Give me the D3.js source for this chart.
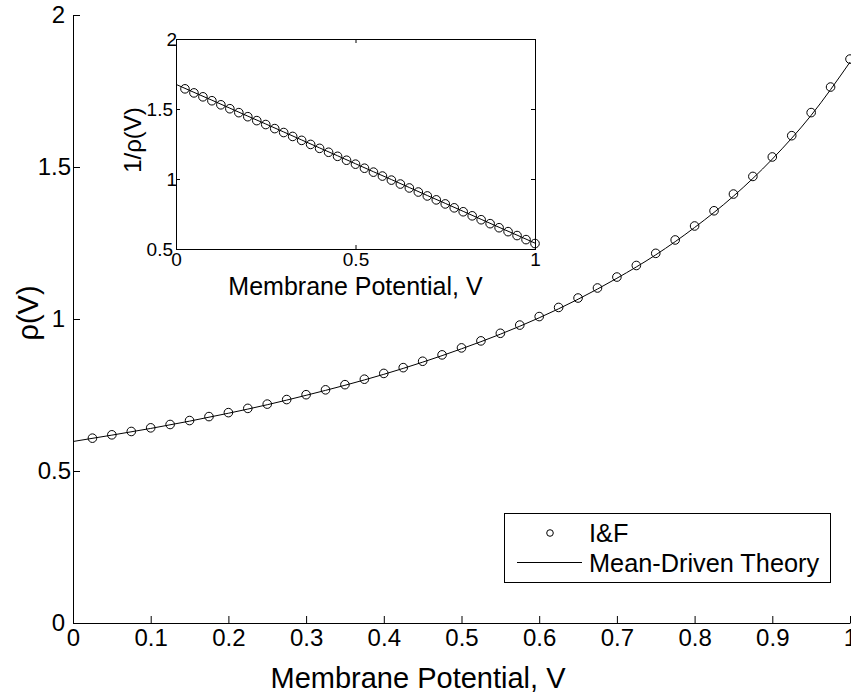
<!DOCTYPE html>
<html><head><meta charset="utf-8">
<script src="https://cdn.jsdelivr.net/npm/d3@7"></script>
<style>
body{margin:0;background:#fff}
svg{display:block;font-family:"Liberation Sans",Arial,Helvetica,sans-serif}
</style>
</head><body>
<svg id="chart" width="851" height="700"></svg>
<script>
// ---- data ----
const markerV = [0.025,0.05,0.075,0.1,0.125,0.15,0.175,0.2,0.225,0.25,0.275,0.3,0.325,0.35,0.375,0.4,0.425,0.45,0.475,0.5,
                 0.525,0.55,0.575,0.6,0.625,0.65,0.675,0.7,0.725,0.75,0.775,0.8,0.825,0.85,0.875,0.9,0.925,0.95,0.975,1.0];
const markerRho = [0.608,0.619,0.630,0.642,0.653,0.666,0.679,0.692,0.706,0.720,0.735,0.751,0.767,0.784,0.802,0.821,0.840,0.861,0.882,0.905,
                   0.928,0.953,0.980,1.008,1.038,1.069,1.102,1.138,1.176,1.216,1.260,1.306,1.356,1.411,1.469,1.533,1.603,1.679,1.763,1.855];
const markerInvRho = [1.644,1.615,1.587,1.559,1.530,1.502,1.474,1.445,1.417,1.389,1.360,1.332,1.304,1.276,1.247,1.219,1.191,1.162,1.134,1.106,
                      1.077,1.049,1.021,0.992,0.964,0.936,0.907,0.879,0.851,0.822,0.794,0.766,0.737,0.709,0.681,0.652,0.624,0.596,0.567,0.539];
const theoryV = [0,0.05,0.1,0.15,0.2,0.25,0.3,0.35,0.4,0.45,0.5,0.55,0.6,0.65,0.7,0.75,0.8,0.85,0.9,0.95,1.0];
const theoryRho = [0.597,0.618,0.640,0.664,0.690,0.718,0.749,0.782,0.818,0.858,0.902,0.950,1.004,1.065,1.134,1.211,1.301,1.404,1.526,1.670,1.845];
const theoryInvRho = [1.676,1.619,1.563,1.506,1.449,1.393,1.336,1.279,1.222,1.166,1.109,1.052,0.996,0.939,0.882,0.826,0.769,0.712,0.655,0.599,0.542];
const mainXTicks = [0,0.1,0.2,0.3,0.4,0.5,0.6,0.7,0.8,0.9,1];
const mainYTicks = [0,0.5,1,1.5,2];
const insetXTicks = [0,0.5,1];
const insetYTicks = [0.5,1,1.5,2];
const legendLabels = ["I&F","Mean-Driven Theory"];

const svg = d3.select("#chart");
const fmt = d => String(d);

// ---- main plot ----
const x = d3.scaleLinear().domain([0,1]).range([73,850]);
const y = d3.scaleLinear().domain([0,2]).range([623,15]);

const gx = svg.append("g").attr("transform","translate(0,623)")
  .call(d3.axisBottom(x).tickValues(mainXTicks).tickFormat(fmt).tickSize(-7).tickSizeOuter(0).tickPadding(6));
gx.selectAll("text").attr("font-size",24).attr("fill","#000");
gx.selectAll("line,path").attr("stroke","#000");
gx.attr("font-family",null);

const gy = svg.append("g").attr("transform","translate(73,0)")
  .call(d3.axisLeft(y).tickValues(mainYTicks).tickFormat(fmt).tickSize(-7).tickSizeOuter(0).tickPadding(2));
gy.selectAll("text").attr("font-size",24).attr("fill","#000")
  .attr("dx", d => Number.isInteger(d) ? -6 : 0);
gy.selectAll("line,path").attr("stroke","#000");
gy.attr("font-family",null);

const line = d3.line().x((d,i)=>x(theoryV[i])).y(d=>y(d)).curve(d3.curveMonotoneX);
svg.append("path").datum(theoryRho).attr("d",line).attr("fill","none").attr("stroke","#000").attr("stroke-width",1);

svg.append("g").selectAll("circle").data(markerRho).join("circle")
  .attr("cx",(d,i)=>x(markerV[i])).attr("cy",d=>y(d)).attr("r",4.3)
  .attr("fill","none").attr("stroke","#000").attr("stroke-width",1);

svg.append("text").attr("x",418).attr("y",688).attr("text-anchor","middle")
  .attr("font-size",29).text("Membrane Potential, V");
svg.append("text").attr("transform","translate(38,313) rotate(-90)").attr("text-anchor","middle")
  .attr("font-size",29).text("ρ(V)");

// ---- legend ----
const lg = svg.append("g");
lg.append("rect").attr("x",504.5).attr("y",513.5).attr("width",326).attr("height",69)
  .attr("fill","#fff").attr("stroke","#000").attr("stroke-width",1);
lg.append("circle").attr("cx",550).attr("cy",533).attr("r",3.3).attr("fill","none").attr("stroke","#000");
lg.append("line").attr("x1",517).attr("x2",582).attr("y1",562.5).attr("y2",562.5).attr("stroke","#000");
lg.selectAll("text").data(legendLabels).join("text")
  .attr("x",589).attr("y",(d,i)=>542+i*30).attr("font-size",25.3).text(d=>d);

// ---- inset ----
const ix = d3.scaleLinear().domain([0,1]).range([176,535]);
const iy = d3.scaleLinear().domain([0.5,2]).range([249,39]);
const ig = svg.append("g");
ig.append("rect").attr("x",176.5).attr("y",39.5).attr("width",359).attr("height",210)
  .attr("fill","#fff").attr("stroke","#000").attr("stroke-width",1);

const ib = ig.append("g").attr("transform","translate(0,249)")
  .call(d3.axisBottom(ix).tickValues(insetXTicks).tickFormat(fmt).tickSize(-4).tickSizeOuter(0).tickPadding(4));
const it = ig.append("g").attr("transform","translate(0,39)")
  .call(d3.axisTop(ix).tickValues(insetXTicks).tickFormat("").tickSize(-4).tickSizeOuter(0));
const il = ig.append("g").attr("transform","translate(176,0)")
  .call(d3.axisLeft(iy).tickValues(insetYTicks).tickFormat(fmt).tickSize(-4).tickSizeOuter(0).tickPadding(3));
const ir = ig.append("g").attr("transform","translate(535,0)")
  .call(d3.axisRight(iy).tickValues(insetYTicks).tickFormat("").tickSize(-4).tickSizeOuter(0));
[ib,it,il,ir].forEach(g=>{
  g.attr("font-family",null);
  g.selectAll("line,path").attr("stroke","#000");
  g.selectAll("text").attr("font-size",19).attr("fill","#000");
});
il.selectAll("text").attr("dx", d => Number.isInteger(d) ? 4 : 0);

const iline = d3.line().x((d,i)=>ix(theoryV[i])).y(d=>iy(d));
ig.append("path").datum(theoryInvRho).attr("d",iline).attr("fill","none").attr("stroke","#000").attr("stroke-width",1);
ig.append("g").selectAll("circle").data(markerInvRho).join("circle")
  .attr("cx",(d,i)=>ix(markerV[i])).attr("cy",d=>iy(d)).attr("r",4.3)
  .attr("fill","none").attr("stroke","#000").attr("stroke-width",1);

ig.append("text").attr("x",355.5).attr("y",295).attr("text-anchor","middle")
  .attr("font-size",25).text("Membrane Potential, V");
ig.append("text").attr("transform","translate(141,140) rotate(-90)").attr("text-anchor","middle")
  .attr("font-size",24).text("1/ρ(V)");
</script>
</body></html>
